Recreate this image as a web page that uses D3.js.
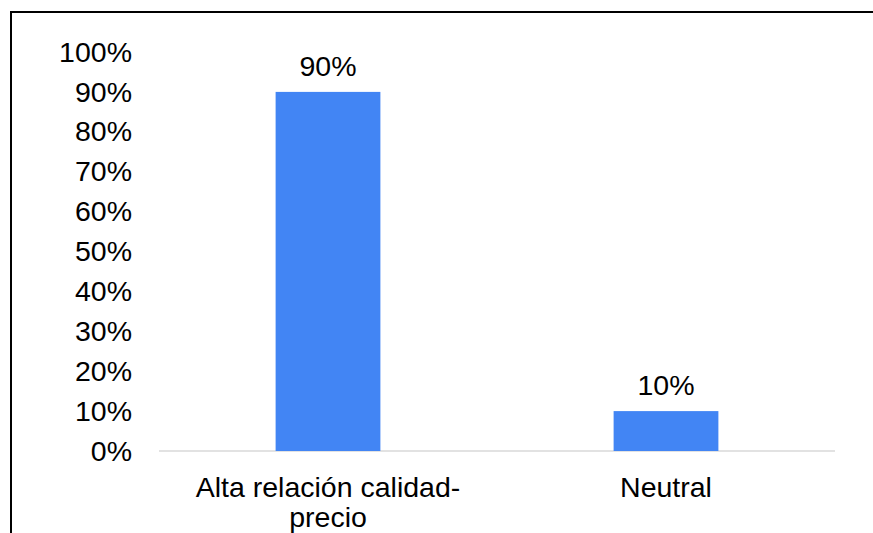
<!DOCTYPE html>
<html>
<head>
<meta charset="utf-8">
<script src="https://cdn.jsdelivr.net/npm/d3@7"></script>
<style>
  html, body { margin: 0; padding: 0; background: #fff; }
  svg { display: block; font-family: "Liberation Sans", Arial, sans-serif; }
</style>
</head>
<body>
<svg id="chart" width="873" height="533"></svg>
<script>
const categories = ["Alta relación calidad-precio", "Neutral"];
const values = [0.90, 0.10];
const tickValues = [0, 0.1, 0.2, 0.3, 0.4, 0.5, 0.6, 0.7, 0.8, 0.9, 1.0];

const svg = d3.select("#chart");
const W = 873, H = 533;
const margin = { top: 52, right: 38, bottom: 82, left: 159 };
const fontSize = 28.5;

// Outer frame (runs off the right and bottom edges)
svg.append("rect")
  .attr("x", 11).attr("y", 12)
  .attr("width", W + 20).attr("height", H + 20)
  .attr("fill", "none").attr("stroke", "#000").attr("stroke-width", 2);

const x = d3.scaleBand()
  .domain(categories)
  .range([margin.left, W - margin.right])
  .paddingInner(0.69)
  .paddingOuter(0.345);

const y = d3.scaleLinear()
  .domain([0, 1])
  .range([H - margin.bottom, margin.top]);

const fmt = d3.format(".0%");

// Y axis labels only
const yAxis = d3.axisLeft(y).tickValues(tickValues).tickFormat(fmt).tickSize(0).tickPadding(0);
const gy = svg.append("g").attr("transform", "translate(132,0)").call(yAxis);
gy.select(".domain").remove();
gy.selectAll("text")
  .attr("font-size", fontSize)
  .attr("font-family", "Liberation Sans, Arial, sans-serif")
  .attr("fill", "#000");

// Baseline
svg.append("line")
  .attr("x1", margin.left).attr("x2", W - margin.right)
  .attr("y1", y(0)).attr("y2", y(0))
  .attr("stroke", "#d9d9d9").attr("stroke-width", 1.5);

// Bars
svg.selectAll("rect.bar")
  .data(categories)
  .join("rect")
  .attr("class", "bar")
  .attr("x", d => x(d))
  .attr("width", x.bandwidth())
  .attr("y", (d, i) => y(values[i]))
  .attr("height", (d, i) => y(0) - y(values[i]))
  .attr("fill", "#4285f4");

// Value labels
svg.selectAll("text.val")
  .data(categories)
  .join("text")
  .attr("class", "val")
  .attr("x", d => x(d) + x.bandwidth() / 2)
  .attr("y", (d, i) => y(values[i]) - 16)
  .attr("text-anchor", "middle")
  .attr("font-size", fontSize)
  .attr("fill", "#000")
  .text((d, i) => fmt(values[i]));

// Category labels, wrapped to the band step (breaks after spaces or hyphens)
const maxW = x.step();
categories.forEach(cat => {
  const t = svg.append("text")
    .attr("x", x(cat) + x.bandwidth() / 2)
    .attr("y", 497)
    .attr("text-anchor", "middle")
    .attr("font-size", fontSize)
    .attr("fill", "#000");
  const tokens = cat.match(/[^\s-]+-?\s?/g);
  let line = "", lineNo = 0;
  let tspan = t.append("tspan").attr("x", x(cat) + x.bandwidth() / 2).attr("dy", 0);
  tokens.forEach(tok => {
    const trial = line + tok;
    tspan.text(trial.trim());
    if (tspan.node().getComputedTextLength() > maxW && line) {
      tspan.text(line.trim());
      line = tok;
      lineNo++;
      tspan = t.append("tspan").attr("x", x(cat) + x.bandwidth() / 2).attr("dy", 30).text(tok.trim());
    } else {
      line = trial;
    }
  });
});
</script>
</body>
</html>
